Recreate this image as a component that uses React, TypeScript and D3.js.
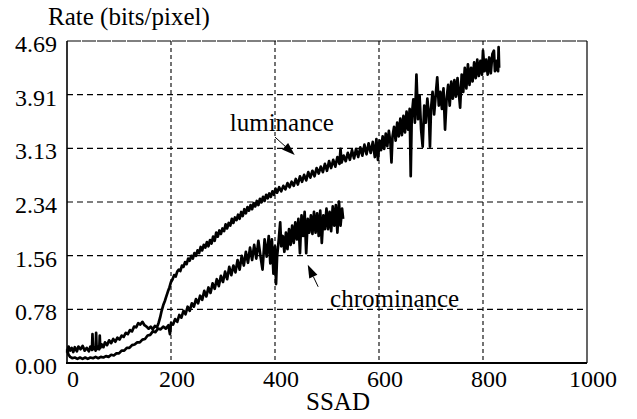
import React from "react";
import * as d3 from "d3";

// values (SSAD vs rate)
const xTicks = [0, 200, 400, 600, 800, 1000];
const yTickLabels = ["0.00", "0.78", "1.56", "2.34", "3.13", "3.91", "4.69"];
const yMax = 4.69;

const luminance: [number, number][] = [
  [0, 0.15], [3, 0.24], [6, 0.18], [9, 0.22], [12, 0.16], [15, 0.23], [19, 0.17], [22, 0.24],
  [26, 0.2], [30, 0.25], [34, 0.18], [38, 0.22], [42, 0.17], [45, 0.24], [48, 0.19], [49, 0.42],
  [50, 0.2], [53, 0.23], [55, 0.18], [56, 0.44], [57, 0.2], [60, 0.24], [62, 0.2], [63, 0.4],
  [64, 0.22], [67, 0.27], [70, 0.23], [73, 0.3], [77, 0.26], [81, 0.33], [85, 0.29], [89, 0.35],
  [93, 0.31], [97, 0.37], [101, 0.34], [105, 0.4], [109, 0.38], [113, 0.44], [117, 0.42], [121, 0.48],
  [125, 0.46], [129, 0.53], [133, 0.52], [137, 0.58], [141, 0.56], [145, 0.6], [149, 0.55], [153, 0.53],
  [157, 0.5], [161, 0.53], [165, 0.49], [169, 0.54], [173, 0.52], [176, 0.58], [179, 0.66], [182, 0.76],
  [185, 0.84], [188, 0.9], [191, 0.97], [194, 1.04], [197, 1.1], [200, 1.18], [203, 1.22], [206, 1.28],
  [209, 1.26], [212, 1.33], [215, 1.36], [218, 1.34], [221, 1.42], [224, 1.4], [227, 1.47], [230, 1.44],
  [233, 1.52], [236, 1.49], [239, 1.56], [242, 1.52], [245, 1.6], [248, 1.56], [251, 1.64], [254, 1.6],
  [257, 1.69], [260, 1.64], [263, 1.72], [266, 1.68], [269, 1.76], [272, 1.7], [275, 1.79], [278, 1.74],
  [281, 1.84], [284, 1.78], [287, 1.9], [290, 1.84], [293, 1.93], [296, 1.88], [299, 1.96], [302, 1.92],
  [305, 2.02], [308, 1.96], [311, 2.04], [314, 2.0], [317, 2.1], [320, 2.04], [323, 2.12], [326, 2.08],
  [329, 2.16], [332, 2.1], [335, 2.2], [338, 2.14], [341, 2.24], [344, 2.18], [347, 2.27], [350, 2.22],
  [353, 2.3], [356, 2.24], [359, 2.33], [362, 2.28], [365, 2.36], [368, 2.3], [371, 2.39], [374, 2.34],
  [377, 2.42], [380, 2.36], [383, 2.45], [386, 2.4], [389, 2.47], [392, 2.42], [395, 2.5], [398, 2.45],
  [401, 2.54], [404, 2.48], [408, 2.56], [412, 2.5], [416, 2.58], [420, 2.53], [424, 2.62], [428, 2.56],
  [432, 2.64], [436, 2.58], [440, 2.68], [444, 2.6], [448, 2.72], [452, 2.64], [456, 2.74], [460, 2.66],
  [464, 2.78], [468, 2.7], [472, 2.8], [476, 2.72], [480, 2.84], [484, 2.76], [488, 2.86], [492, 2.78],
  [496, 2.9], [500, 2.8], [504, 2.94], [508, 2.84], [512, 2.96], [516, 2.86], [520, 3.0], [524, 2.9],
  [526, 3.12], [528, 2.92], [532, 3.02], [536, 2.94], [540, 3.06], [544, 2.96], [548, 3.1], [552, 2.98],
  [556, 3.12], [560, 3.0], [564, 3.14], [568, 3.02], [572, 3.18], [576, 3.04], [580, 3.2], [584, 3.06],
  [588, 3.22], [592, 3.0], [595, 3.26], [598, 2.96], [601, 3.24], [604, 3.1], [607, 3.3], [610, 3.12],
  [613, 3.34], [616, 3.16], [619, 3.38], [622, 3.2], [624, 2.92], [626, 3.3], [629, 3.44], [632, 3.24],
  [635, 3.5], [638, 3.3], [641, 3.56], [644, 3.32], [647, 3.6], [650, 3.36], [653, 3.66], [656, 3.4],
  [659, 3.7], [661, 2.72], [663, 3.6], [666, 3.84], [669, 3.5], [672, 4.2], [675, 3.55], [678, 3.9],
  [681, 3.4], [684, 3.15], [687, 3.75], [690, 3.5], [693, 3.85], [696, 3.6], [698, 3.15], [700, 3.7],
  [703, 3.95], [706, 3.62], [709, 3.9], [712, 4.16], [715, 3.75], [718, 3.95], [721, 3.7], [724, 4.0],
  [727, 3.4], [730, 3.85], [733, 4.05], [736, 3.75], [739, 4.1], [742, 3.85], [745, 4.12], [748, 3.88],
  [751, 4.15], [754, 3.9], [756, 3.72], [759, 4.2], [762, 3.95], [765, 4.3], [768, 4.0], [771, 4.35],
  [774, 4.05], [777, 4.3], [780, 4.1], [783, 4.38], [786, 4.15], [789, 4.42], [792, 4.18], [795, 4.4],
  [798, 4.2], [800, 4.55], [803, 4.25], [806, 4.42], [809, 4.2], [812, 4.45], [815, 4.22], [818, 4.5],
  [821, 4.55], [823, 4.25], [826, 4.4], [829, 4.25], [830, 4.6], [831, 4.3],
];

const chrominance: [number, number][] = [
  [0, 0.2], [3, 0.12], [6, 0.09], [10, 0.07], [15, 0.08], [20, 0.06], [25, 0.08], [30, 0.06],
  [35, 0.08], [40, 0.06], [45, 0.08], [50, 0.07], [55, 0.09], [60, 0.07], [65, 0.09], [70, 0.08],
  [75, 0.1], [80, 0.09], [85, 0.12], [90, 0.11], [95, 0.14], [100, 0.14], [105, 0.18], [110, 0.18],
  [115, 0.22], [120, 0.22], [125, 0.26], [130, 0.27], [135, 0.3], [140, 0.3], [145, 0.34], [150, 0.35],
  [155, 0.4], [160, 0.41], [165, 0.46], [170, 0.45], [175, 0.5], [180, 0.49], [185, 0.53], [190, 0.5],
  [195, 0.55], [198, 0.42], [200, 0.58], [204, 0.56], [208, 0.64], [212, 0.6], [216, 0.7], [220, 0.66],
  [224, 0.76], [228, 0.71], [232, 0.82], [236, 0.76], [240, 0.87], [244, 0.82], [248, 0.93], [252, 0.87],
  [256, 0.98], [260, 0.92], [264, 1.05], [268, 0.97], [272, 1.1], [276, 1.02], [280, 1.16], [284, 1.08],
  [288, 1.22], [292, 1.12], [296, 1.27], [300, 1.18], [304, 1.33], [308, 1.22], [312, 1.4], [316, 1.28],
  [320, 1.42], [324, 1.32], [328, 1.5], [332, 1.36], [336, 1.56], [340, 1.42], [344, 1.62], [348, 1.46],
  [352, 1.68], [356, 1.5], [360, 1.72], [364, 1.52], [368, 1.78], [372, 1.56], [376, 1.36], [380, 1.8],
  [384, 1.55], [388, 1.85], [391, 1.45], [394, 1.8], [397, 1.3], [400, 1.7], [402, 1.15], [404, 1.55],
  [407, 1.78], [410, 2.05], [412, 1.7], [415, 1.85], [418, 1.62], [421, 1.9], [424, 1.66], [427, 1.95],
  [430, 1.72], [433, 2.0], [436, 1.75], [439, 2.05], [442, 1.8], [445, 2.1], [448, 1.6], [451, 2.15],
  [454, 1.85], [457, 2.2], [460, 1.6], [463, 2.1], [466, 1.9], [469, 2.15], [472, 1.88], [475, 2.2],
  [478, 1.9], [481, 2.18], [484, 1.85], [487, 2.22], [490, 1.75], [493, 2.15], [496, 1.95], [499, 2.25],
  [502, 1.95], [505, 2.2], [508, 1.92], [511, 2.28], [514, 2.0], [517, 2.3], [520, 1.9], [523, 2.35],
  [526, 2.0], [529, 2.25], [531, 2.1],
];

// annotation anchors in data units
const lumNote = { text: "luminance", tx: 313, ty: 3.38, x1: 400, y1: 3.29, x2: 438, y2: 3.03 };
const chromNote = { text: "chrominance", tx: 506, ty: 0.82, x1: 483, y1: 1.11, x2: 463, y2: 1.43 };

const W = 637;
const H = 419;
const m = { left: 67, right: 50, top: 41, bottom: 56 };
const serif = {
  fontFamily:
    "'Liberation Serif', Tinos, 'Noto Serif', 'DejaVu Serif', FreeSerif, 'Nimbus Roman', Times, serif",
};

export default function App() {
  const x = d3.scaleLinear().domain([0, 1000]).range([m.left, W - m.right]);
  const y = d3.scaleLinear().domain([0, yMax]).range([H - m.bottom, m.top]);
  const yTicks = yTickLabels.map((_, i) => (yMax * i) / 6);

  const lineGen = d3
    .line<[number, number]>()
    .x((d) => x(d[0]))
    .y((d) => y(d[1]));

  const arrow = (n: typeof lumNote) => {
    const ax = x(n.x1), ay = y(n.y1), bx = x(n.x2), by = y(n.y2);
    const ang = Math.atan2(by - ay, bx - ax);
    const len = 13, half = 4.5;
    const baseX = bx - Math.cos(ang) * len, baseY = by - Math.sin(ang) * len;
    const px = -Math.sin(ang) * half, py = Math.cos(ang) * half;
    return (
      <g>
        <line x1={ax} y1={ay} x2={baseX} y2={baseY} stroke="#000" strokeWidth={1} />
        <polygon
          points={`${bx},${by} ${baseX + px},${baseY + py} ${baseX - px},${baseY - py}`}
          fill="#000"
        />
      </g>
    );
  };

  return (
    <svg width={W} height={H} style={{ position: "absolute", left: 0, top: 0, background: "#fff" }}>
      <rect width={W} height={H} fill="#fff" />
      {/* grid */}
      {yTicks.slice(1, -1).map((t) => (
        <line key={"gy" + t} x1={x(0)} x2={x(1000)} y1={y(t)} y2={y(t)}
          stroke="#000" strokeWidth={1.1} strokeDasharray="6 4" />
      ))}
      {xTicks.slice(1, -1).map((t) => (
        <line key={"gx" + t} x1={x(t)} x2={x(t)} y1={y(yMax)} y2={y(0)}
          stroke="#000" strokeWidth={1.1} strokeDasharray="4 3" />
      ))}
      {/* frame */}
      <line x1={x(0)} x2={x(1000)} y1={y(yMax)} y2={y(yMax)} stroke="#000" strokeWidth={1} strokeDasharray="14 1" />
      <line x1={x(1000)} x2={x(1000)} y1={y(yMax)} y2={y(0)} stroke="#000" strokeWidth={1.2} />
      <line x1={x(0)} x2={x(0)} y1={y(yMax)} y2={y(0)} stroke="#000" strokeWidth={1.6} />
      <line x1={x(0) - 1} x2={x(1000)} y1={y(0)} y2={y(0)} stroke="#000" strokeWidth={2.2} />

      {/* series */}
      <path d={lineGen(chrominance) ?? ""} fill="none" stroke="#000" strokeWidth={2.7} strokeLinejoin="round" />
      <path d={lineGen(luminance) ?? ""} fill="none" stroke="#000" strokeWidth={2.7} strokeLinejoin="round" />

      {/* tick labels */}
      <g style={serif} fontSize={24} fill="#000">
        {yTicks.map((t, i) => (
          <text key={"yl" + i} x={m.left - 10} y={y(t) + 11} textAnchor="end">{yTickLabels[i]}</text>
        ))}
        {xTicks.map((t) => (
          <text key={"xl" + t} x={x(t) + 6} y={y(0) + 24} textAnchor="middle">{t}</text>
        ))}
      </g>

      <text x={48} y={25} style={serif} fontSize={25}>Rate (bits/pixel)</text>
      <text x={338} y={410} style={serif} fontSize={25} textAnchor="middle">SSAD</text>

      {/* annotations */}
      <text x={x(lumNote.tx)} y={y(lumNote.ty)} style={serif} fontSize={25}>{lumNote.text}</text>
      {arrow(lumNote)}
      <text x={x(chromNote.tx)} y={y(chromNote.ty)} style={serif} fontSize={25}>{chromNote.text}</text>
      {arrow(chromNote)}
    </svg>
  );
}
